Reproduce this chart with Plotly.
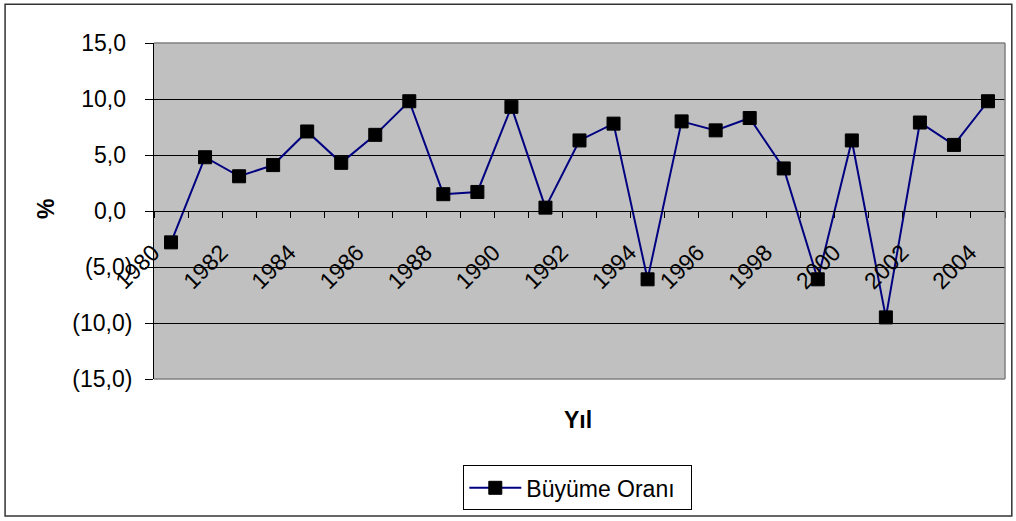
import plotly.graph_objects as go

# Data
years = list(range(1980, 2005))
growth = [-2.8, 4.8, 3.1, 4.1, 7.1, 4.3, 6.8, 9.8, 1.5, 1.7,
          9.3, 0.3, 6.3, 7.8, -6.1, 8.0, 7.2, 8.3, 3.8, -6.1,
          6.3, -9.5, 7.9, 5.9, 9.8]

x_tickvals = list(range(1980, 2005, 2))
x_ticktext = [str(y) for y in x_tickvals]

y_tickvals = [-15, -10, -5, 0, 5, 10, 15]
y_ticktext = ["(15,0)", "(10,0)", "(5,0)", "0,0\u2008", "5,0\u2008", "10,0\u2008", "15,0\u2008"]

FONT = "Liberation Sans, Arial, sans-serif"

fig = go.Figure()

fig.add_trace(go.Scatter(
    x=years,
    y=growth,
    mode="lines+markers",
    name="Büyüme Oranı\u2002",
    line=dict(color="#000080", width=2),
    marker=dict(symbol="square", size=13, color="black", line=dict(color="black", width=1))
))

fig.update_layout(
    width=1016,
    height=521,
    autosize=False,
    margin=dict(l=154, r=11, t=43, b=140),
    paper_bgcolor="white",
    plot_bgcolor="#C0C0C0",
    font=dict(family=FONT, size=23, color="black"),
    showlegend=True,
    legend=dict(
        x=0.498, y=-0.257, xanchor="center", yanchor="top",
        bordercolor="black", borderwidth=1, bgcolor="white",
        font=dict(size=23), itemwidth=52
    ),
    xaxis=dict(
        range=[1979.5, 2004.5],
        anchor="free", position=0.5,
        tickmode="array", tickvals=x_tickvals, ticktext=x_ticktext,
        tickangle=-45,
        ticks="outside", ticklen=6, tickcolor="rgba(0,0,0,0)",
        ticklabelshift=-18, ticklabelstandoff=12,
        minor=dict(tick0=1979.5, dtick=1, ticks="outside", ticklen=6,
                   tickcolor="black", showgrid=False),
        showline=True, linecolor="black", linewidth=1,
        showgrid=False, zeroline=False,
    ),
    yaxis=dict(
        range=[-15, 15],
        tickmode="array", tickvals=y_tickvals, ticktext=y_ticktext,
        ticks="outside", ticklen=8, tickcolor="black",
        ticklabelstandoff=8,
        showline=True, linecolor="black", linewidth=1,
        showgrid=True, gridcolor="black", gridwidth=1,
        zeroline=False,
    ),
)

# plot-area border (top, right, bottom) and outer chart frame
for x0, y0, x1, y1 in [(0, 1, 1, 1), (1, 0, 1, 1), (0, 0, 1, 0)]:
    fig.add_shape(type="line", xref="paper", yref="paper",
                  x0=x0, y0=y0, x1=x1, y1=y1,
                  line=dict(color="#808080", width=1.5), layer="above")

fig.add_shape(type="rect", xref="paper", yref="paper",
              x0=-0.175, y0=-0.408, x1=1.008, y1=1.115,
              line=dict(color="#333333", width=1.5))

fig.add_annotation(text="<b>%</b>", xref="paper", yref="paper",
                   x=-0.127, y=0.506, xanchor="center", yanchor="middle",
                   showarrow=False, textangle=-90, font=dict(size=23))
fig.add_annotation(text="<b>Yıl</b>", xref="paper", yref="paper",
                   x=0.498, y=-0.121, xanchor="center", yanchor="middle",
                   showarrow=False, font=dict(size=23))

fig.write_html("out.html", config={"displayModeBar": False},
               post_script="document.body.style.margin='0';")
